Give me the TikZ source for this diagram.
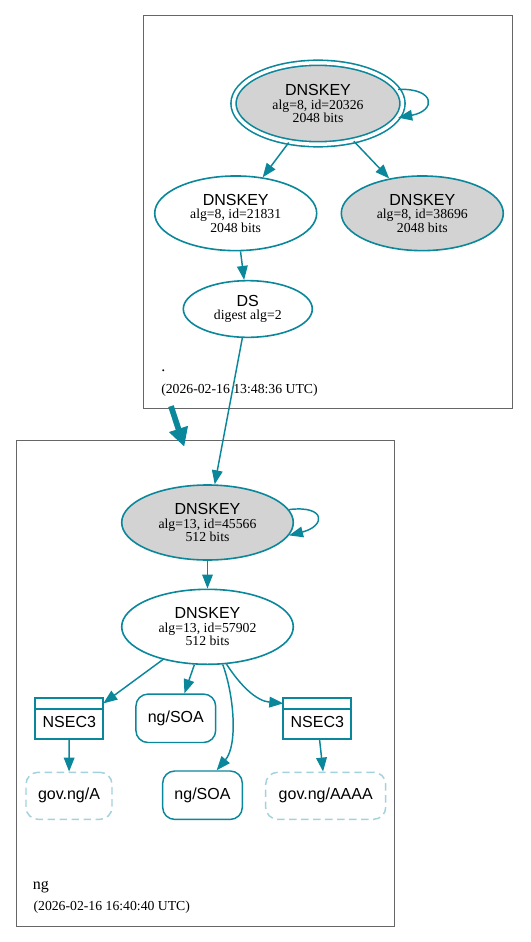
\documentclass[tikz,border=0pt]{standalone}
\usepackage{fontspec}
\setmainfont{Liberation Serif}
\setsansfont{Liberation Sans}
\usetikzlibrary{shapes.geometric,arrows.meta}
\definecolor{teal}{HTML}{0A879A}
\definecolor{keyfill}{HTML}{D3D3D3}
\definecolor{dashcol}{HTML}{A3D2DC}
\definecolor{clcol}{HTML}{666666}
\tikzset{
  cluster/.style={draw=clcol, line width=0.75pt, rectangle, inner sep=0pt, outer sep=0pt},
  keynode/.style={ellipse, draw=teal, line width=1.2pt, inner sep=0pt, align=center,
    font=\fontsize{10.3}{10.1}\selectfont},
  edge/.style={draw=teal, line width=1.1pt, -{Triangle[length=10.5pt,width=8pt]}},
  bigedge/.style={draw=teal, line width=4.3pt, -{Triangle[length=14pt,width=14pt]}},
  nsecbox/.style={rectangle, draw=teal, line width=1.6pt, outer sep=0pt, inner sep=0pt,
    minimum width=51pt, minimum height=30.5pt, font=\sffamily\fontsize{12}{14}\selectfont},
  rrbox/.style={rectangle, rounded corners=9pt, draw=teal, line width=1.1pt, inner sep=0pt,
    minimum height=36.3pt, font=\sffamily\fontsize{12}{14}\selectfont},
  ghostbox/.style={rectangle, rounded corners=9pt, draw=dashcol, line width=1.1pt, inner sep=0pt,
    dash pattern=on 5.5pt off 3.5pt, minimum height=35.25pt, font=\sffamily\fontsize{12}{14}\selectfont},
  cllabel/.style={anchor=base west, inner sep=0pt, font=\fontsize{12}{14}\selectfont},
  cldate/.style={anchor=base west, inner sep=0pt, font=\fontsize{10.3}{12}\selectfont}
}
\newcommand{\keytitle}{{\sffamily\fontsize{12}{10.1}\selectfont DNSKEY}}
\begin{document}
\begin{tikzpicture}[x=0.75pt,y=-0.75pt]
\useasboundingbox (0,0) rectangle (531,942);
% clusters
\node[cluster, minimum width=277.1pt, minimum height=294.6pt, anchor=north west] (clTop) at (143.5,16) {};
\node[cluster, minimum width=283.5pt, minimum height=364.1pt, anchor=north west] (clBot) at (16,440.7) {};
\node[cllabel] (lblTop) at (161,371.7) {.};
\node[cldate] (dateTop) at (161,393.3) {(2026-02-16 13:48:36 UTC)};
\node[cllabel] (lblBot) at (32.7,889.3) {ng};
\node[cldate] (dateBot) at (33.3,910) {(2026-02-16 16:40:40 UTC)};
% top zone nodes
\node[keynode, fill=keyfill, double=white, double distance=2.6pt,
  minimum width=126.75pt, minimum height=61.1pt] (ksk1) at (318,103.5)
  {\keytitle\\ alg=8, id=20326\\ 2048 bits};
\node[keynode, fill=white, minimum width=121.5pt, minimum height=56pt] (zsk1) at (235.7,213.3)
  {\keytitle\\ alg=8, id=21831\\ 2048 bits};
\node[keynode, fill=keyfill, minimum width=121.5pt, minimum height=56pt] (ksk2) at (422.3,213.3)
  {\keytitle\\ alg=8, id=38696\\ 2048 bits};
\node[keynode, fill=white, minimum width=96.75pt, minimum height=42.5pt] (ds) at (247.8,309)
  {{\sffamily\fontsize{12}{10.1}\selectfont DS}\\ digest alg=2};
% bottom zone nodes
\node[keynode, fill=keyfill, minimum width=128.7pt, minimum height=56.25pt] (ksk3) at (207.5,522.5)
  {\keytitle\\ alg=13, id=45566\\ 512 bits};
\node[keynode, fill=white, minimum width=128.7pt, minimum height=56.25pt] (zsk3) at (207.5,626.8)
  {\keytitle\\ alg=13, id=57902\\ 512 bits};
\node[nsecbox] (nsecL) at (69.3,718.7) {\raisebox{-2.7pt}[\height][\depth]{NSEC3}};
\node[nsecbox] (nsecR) at (317.3,718.7) {\raisebox{-2.7pt}[\height][\depth]{NSEC3}};
\draw[teal, line width=1.6pt] ([yshift=-8.25pt]nsecL.north west) -- ([yshift=-8.25pt]nsecL.north east);
\draw[teal, line width=1.6pt] ([yshift=-8.25pt]nsecR.north west) -- ([yshift=-8.25pt]nsecR.north east);
\node[rrbox, minimum width=59.8pt] (soa1) at (175.8,718.3) {ng/SOA};
\node[rrbox, minimum width=59.7pt] (soa2) at (202.5,795.2) {ng/SOA};
\node[ghostbox, minimum width=64.5pt] (govA) at (69,795.8) {gov.ng/A};
\node[ghostbox, minimum width=90pt] (govAAAA) at (325.7,795.8) {gov.ng/AAAA};
% edges top
\draw[edge] (ksk1.10) .. controls (436,88) and (436,111) .. (ksk1.-10);
\draw[edge] (ksk1) -- (zsk1);
\draw[edge] (ksk1) -- (ksk2);
\draw[edge] (zsk1) -- (ds);
\draw[edge] (ds) -- (ksk3);
% delegation arrow
\draw[bigedge] ([xshift=20.6pt,yshift=2pt]clTop.south west) -- ([xshift=126.2pt,yshift=-4.5pt]clBot.north west);
% edges bottom
\draw[edge] (ksk3.9) .. controls (326,505) and (326,526) .. (ksk3.-9);
\draw[edge] (ksk3) -- (zsk3);
\draw[edge] (zsk3) -- ([yshift=11.5pt]nsecL.east);
\draw[edge] (zsk3) -- (soa1);
\draw[edge] (zsk3.-68) .. controls (234,695) and (238,745) .. ([xshift=10.6pt]soa2.north);
\draw[edge] (zsk3.-63) .. controls (240,685) and (256,701) .. ([yshift=11.5pt]nsecR.west);
\draw[edge] (nsecL) -- (govA);
\draw[edge] (nsecR) -- (govAAAA);
\end{tikzpicture}
\end{document}
